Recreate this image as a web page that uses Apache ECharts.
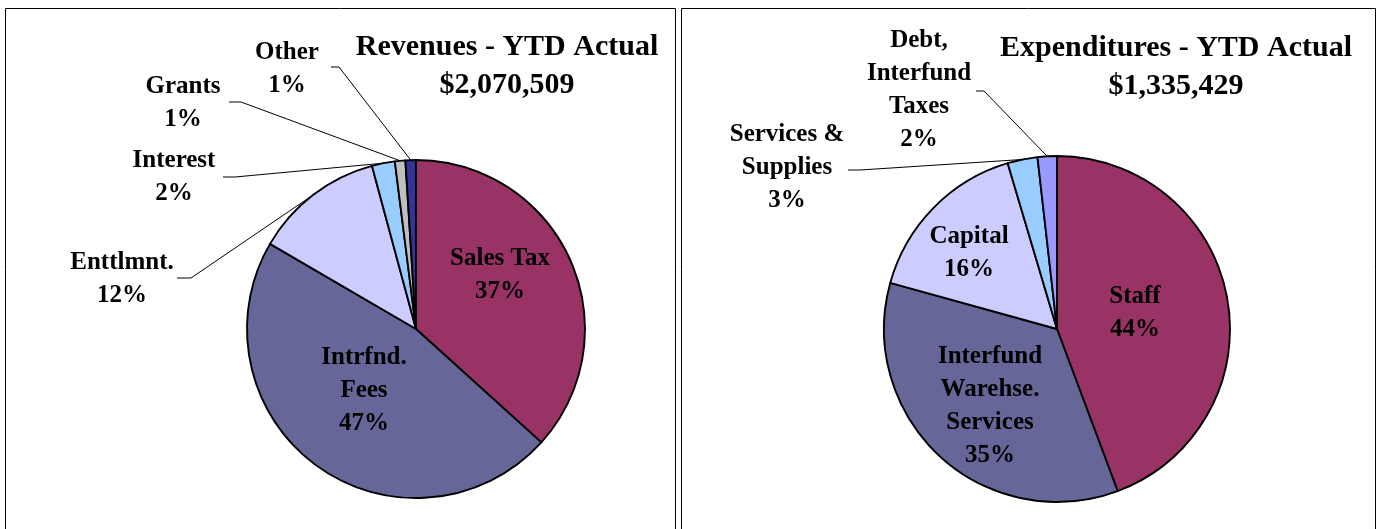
<!DOCTYPE html>
<html>
<head>
<meta charset="utf-8">
<script src="https://cdn.jsdelivr.net/npm/echarts@6/dist/echarts.min.js"></script>
<style>
  html, body { margin: 0; padding: 0; background: #fff; }
  #chart { width: 1381px; height: 529px; }
</style>
</head>
<body>
<div id="chart"></div>
<script>
// revenues (share of YTD actual, %)
var revNames = ['Sales Tax', 'Intrfnd.\nFees', 'Enttlmnt.', 'Interest', 'Grants', 'Other'];
var revValues = [36.7, 46.7, 12.4, 2.2, 1.0, 1.0];
var revColors = ['#993366', '#666699', '#CCCCFF', '#99CCFF', '#C0C0C0', '#333399'];
var revTitle = 'Revenues - YTD Actual\n$2,070,509';

// expenditures (share of YTD actual, %)
var expNames = ['Staff', 'Interfund\nWarehse.\nServices', 'Capital', 'Services &\nSupplies', 'Debt,\nInterfund\nTaxes'];
var expValues = [44.3, 35.0, 16.1, 2.8, 1.8];
var expColors = ['#993366', '#666699', '#CCCCFF', '#99CCFF', '#9999FF'];
var expTitle = 'Expenditures - YTD Actual\n$1,335,429';

var FONT = '"Liberation Serif", "Times New Roman", serif';

// where the labels sit: [x, y] centre of text block; for outside ones also the
// end of the leader line next to the text
var revLabelPos = [
  { inside: true, at: [500, 275] },
  { inside: true, at: [364, 391] },
  { at: [122, 279], end: [177, 278], bend: [191, 278] },
  { at: [174, 177], end: [223, 177], bend: [235, 177] },
  { at: [183, 103], end: [229, 102], bend: [241, 102] },
  { at: [287, 69], end: [331, 67], bend: [339, 67] }
];
var expLabelPos = [
  { inside: true, at: [1135, 313] },
  { inside: true, at: [990, 406] },
  { inside: true, at: [969, 253] },
  { at: [787, 168], end: [848, 170], bend: [860, 170] },
  { at: [919, 90], end: [976, 91], bend: [984, 91] }
];

function buildData(names, values, colors, pos) {
  return names.map(function (n, i) {
    var inside = pos[i].inside;
    return {
      name: n,
      value: values[i],
      itemStyle: { color: colors[i] },
      label: { position: inside ? 'inside' : 'outside' },
      labelLine: { show: !inside }
    };
  });
}

function layoutFor(pos) {
  return function (params) {
    var p = pos[params.dataIndex];
    var out = { x: p.at[0], y: p.at[1], align: 'center', verticalAlign: 'middle' };
    if (!p.inside && params.labelLinePoints) {
      out.labelLinePoints = [params.labelLinePoints[0], p.bend, p.end];
    }
    return out;
  };
}

var pieBase = {
  type: 'pie',
  startAngle: 90,
  clockwise: true,
  percentPrecision: 0,
  avoidLabelOverlap: false,
  animation: false,
  itemStyle: { borderColor: '#000', borderWidth: 1.9 },
  label: {
    formatter: '{b}\n{d}%',
    color: '#000',
    fontFamily: FONT,
    fontWeight: 'bold',
    fontSize: 25,
    lineHeight: 33,
    align: 'center'
  },
  labelLine: { lineStyle: { color: '#000', width: 1 } },
  emphasis: { disabled: true }
};

var chart = echarts.init(document.getElementById('chart'), null, { renderer: 'canvas' });

chart.setOption({
  backgroundColor: '#fff',
  animation: false,
  title: [
    {
      text: revTitle, left: 507, top: 28, padding: 0,
      textAlign: 'center',
      textStyle: { fontFamily: FONT, fontWeight: 'bold', fontSize: 30, lineHeight: 38, color: '#000' }
    },
    {
      text: expTitle, left: 1176, top: 29, padding: 0,
      textAlign: 'center',
      textStyle: { fontFamily: FONT, fontWeight: 'bold', fontSize: 30, lineHeight: 38, color: '#000' }
    }
  ],
  graphic: [
    { type: 'rect', z: -1, shape: { x: 5.5, y: 8.5, width: 670, height: 600 },
      style: { fill: 'none', stroke: '#000', lineWidth: 1 } },
    { type: 'rect', z: -1, shape: { x: 681.5, y: 8.5, width: 694, height: 600 },
      style: { fill: 'none', stroke: '#000', lineWidth: 1 } }
  ],
  series: [
    Object.assign({}, pieBase, {
      center: [416, 329],
      radius: 169,
      data: buildData(revNames, revValues, revColors, revLabelPos),
      labelLayout: layoutFor(revLabelPos)
    }),
    Object.assign({}, pieBase, {
      center: [1057, 329],
      radius: 173,
      data: buildData(expNames, expValues, expColors, expLabelPos),
      labelLayout: layoutFor(expLabelPos)
    })
  ]
});
</script>
</body>
</html>
